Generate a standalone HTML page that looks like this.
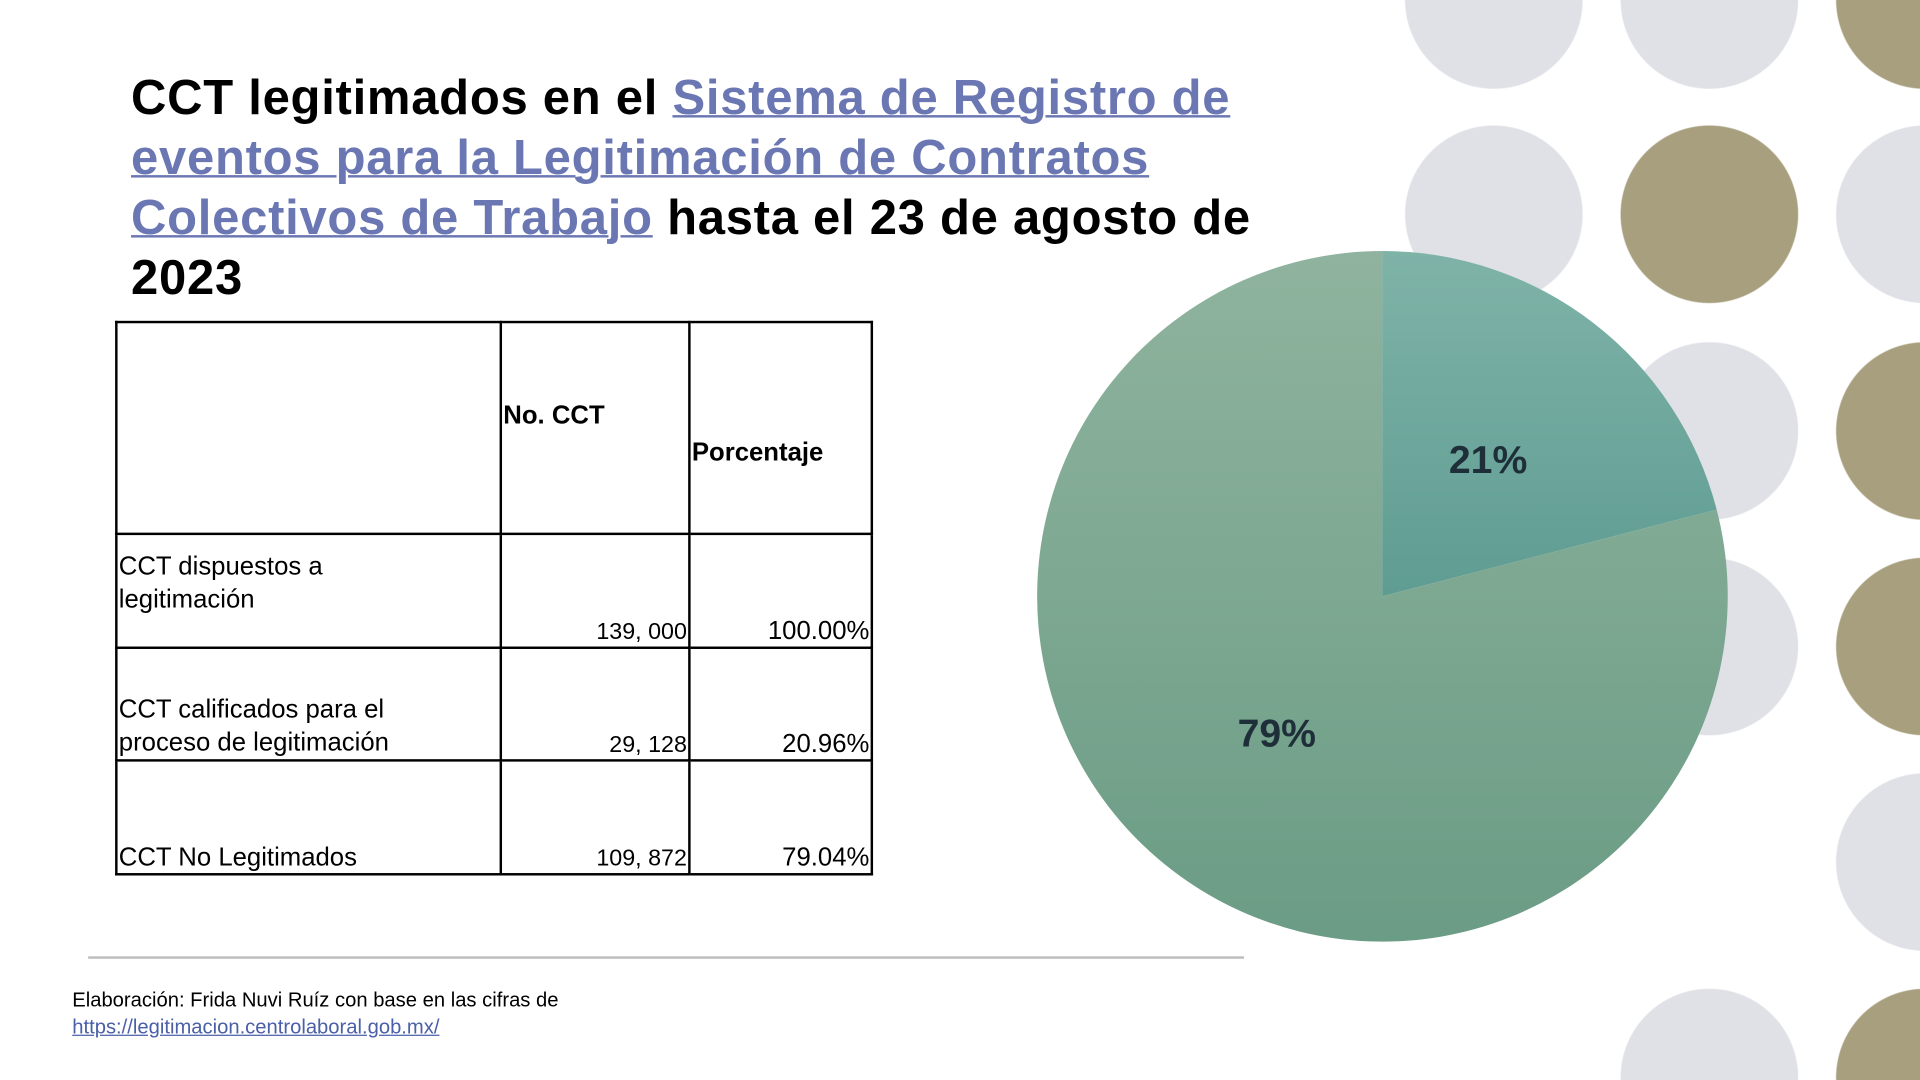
<!DOCTYPE html>
<html><head><meta charset="utf-8"><style>
html,body{margin:0;padding:0;width:1920px;height:1080px;overflow:hidden;background:#fff}
#s{position:absolute;left:0;top:0;width:1568px;height:882px;overflow:hidden;transform:scale(1.22448);transform-origin:0 0;font-family:"Liberation Sans",sans-serif;
background:
radial-gradient(circle at 1220px 0px,#e0e1e7 72px,transparent 73px),
radial-gradient(circle at 1396px 0px,#e0e1e7 72px,transparent 73px),
radial-gradient(circle at 1572px 0px,#a89f7e 72px,transparent 73px),
radial-gradient(circle at 1220px 175px,#e0e1e7 72px,transparent 73px),
radial-gradient(circle at 1396px 175px,#a89f7e 72px,transparent 73px),
radial-gradient(circle at 1572px 175px,#e0e1e7 72px,transparent 73px),
radial-gradient(circle at 1396px 352px,#e0e1e7 72px,transparent 73px),
radial-gradient(circle at 1572px 352px,#a89f7e 72px,transparent 73px),
radial-gradient(circle at 1396px 528px,#e0e1e7 72px,transparent 73px),
radial-gradient(circle at 1572px 528px,#a89f7e 72px,transparent 73px),
radial-gradient(circle at 1572px 704px,#e0e1e7 72px,transparent 73px),
radial-gradient(circle at 1396px 880px,#e0e1e7 72px,transparent 73px),
radial-gradient(circle at 1572px 880px,#a89f7e 72px,transparent 73px),
#fff}
#title{position:absolute;left:107px;top:56px;width:960px;font-weight:bold;font-size:40px;line-height:49px;color:#000;letter-spacing:0.6px}
#title a{color:#6b77b3;text-decoration:underline;text-decoration-thickness:2px}
table{position:absolute;left:94px;top:262px;border-collapse:collapse;font-family:"Liberation Sans Narrow","Liberation Sans",sans-serif}
td{border:2px solid #000;padding:0 1px;vertical-align:bottom;font-size:21px;color:#000}
td.h{font-weight:bold;vertical-align:middle;font-size:21px}
td.n{text-align:right;font-size:19px}
td.p{text-align:right}
#rule{position:absolute;left:72px;top:781px;width:944px;height:2px;background:#bdbdbd}
#foot{position:absolute;left:59px;top:806px;font-size:16.5px;line-height:22px;color:#000}
#foot a{color:#4a5fa8;text-decoration:underline}
</style></head><body><div id="s">

<div id="title">CCT legitimados en el <a>Sistema de Registro de eventos para la Legitimación de Contratos Colectivos de Trabajo</a> hasta el 23 de agosto de 2023</div>

<table>
<tr style="height:173px"><td style="width:310px"></td><td class="h" style="width:150px;vertical-align:middle;padding-bottom:20px">No. CCT</td><td class="h" style="width:145px;padding-top:40px">Porcentaje</td></tr>
<tr style="height:93px"><td style="vertical-align:top;padding-top:12px;line-height:27px">CCT dispuestos a<br>legitimación</td><td class="n">139, 000</td><td class="p">100.00%</td></tr>
<tr style="height:92px"><td style="line-height:27px">CCT calificados para el<br>proceso de legitimación</td><td class="n">29, 128</td><td class="p">20.96%</td></tr>
<tr style="height:93px"><td>CCT No Legitimados</td><td class="n">109, 872</td><td class="p">79.04%</td></tr>
</table>

<svg id="pie" style="position:absolute;left:0;top:0" width="1568" height="882">
<defs>
<linearGradient id="g1" x1="0" y1="0" x2="0" y2="1"><stop offset="0" stop-color="#7fb3a8"/><stop offset="1" stop-color="#5f9c92"/></linearGradient>
<linearGradient id="g2" x1="0" y1="0" x2="0" y2="1"><stop offset="0" stop-color="#8fb39e"/><stop offset="1" stop-color="#6b9c85"/></linearGradient>
</defs>
<g id="slices"></g>
</svg>

<div id="rule"></div>
<div id="foot">Elaboración: Frida Nuvi Ruíz con base en las cifras de<br><a>https://legitimacion.centrolaboral.gob.mx/</a></div>
</div>
<script>
const categories = ["CCT calificados", "CCT No Legitimados"];
const values = [20.96, 79.04];
const labels = ["21%", "79%"];
const fills = ["url(#g1)", "url(#g2)"];
const cx = 1129, cy = 487, r = 282;
const g = document.getElementById('slices');
const total = values.reduce((a,b)=>a+b,0);
function pt(a, rad){return [cx + rad*Math.sin(a), cy - rad*Math.cos(a)];}
let start = 0;
values.forEach((v,i)=>{
  const ang = v/total*2*Math.PI;
  const end = start+ang;
  const [x1,y1]=pt(start,r),[x2,y2]=pt(end,r);
  const p=document.createElementNS('http://www.w3.org/2000/svg','path');
  p.setAttribute('d',`M${cx},${cy} L${x1},${y1} A${r},${r} 0 ${ang>Math.PI?1:0} 1 ${x2},${y2} Z`);
  p.setAttribute('fill',fills[i]);
  
  
  g.appendChild(p);
  const mid=(start+end)/2;
  const [lx,ly]=pt(mid, r*0.5);
  const t=document.createElementNS('http://www.w3.org/2000/svg','text');
  t.setAttribute('x',lx);t.setAttribute('y',ly+11);
  t.setAttribute('text-anchor','middle');
  t.setAttribute('font-family','Liberation Sans, sans-serif');
  t.setAttribute('font-weight','bold');t.setAttribute('font-size','32');
  t.setAttribute('fill','#1f2f3a');
  t.textContent=labels[i];
  
  
  g.appendChild(t);
  start=end;
});
</script>
</body></html>
